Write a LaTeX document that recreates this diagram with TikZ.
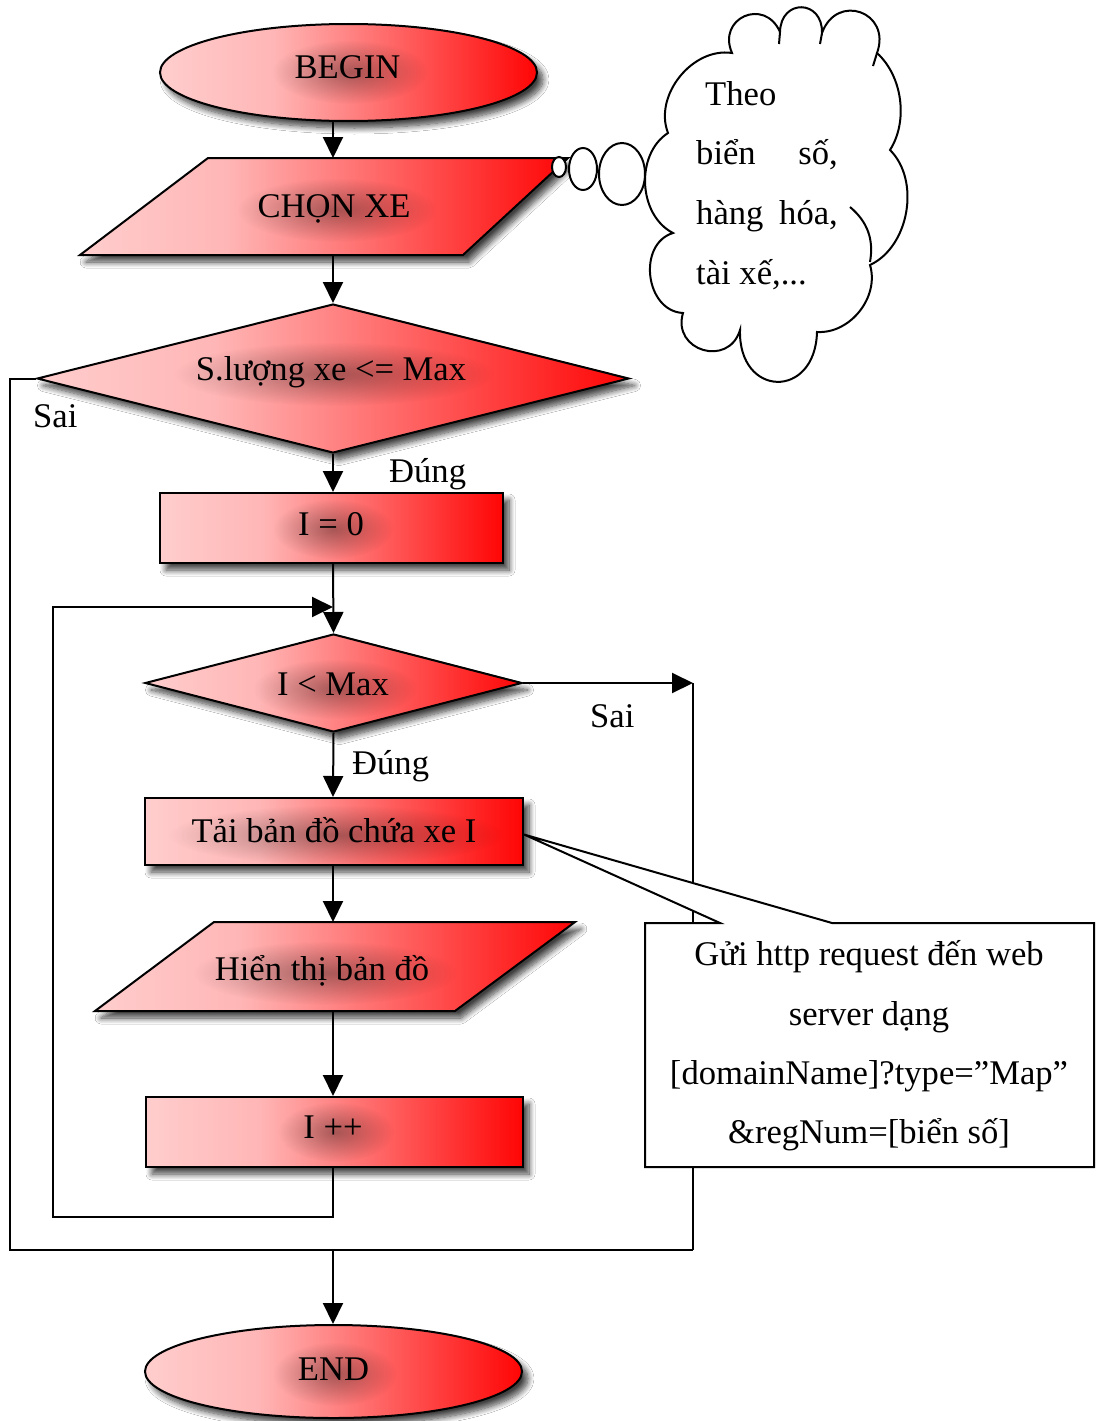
\documentclass[tikz,border=0pt]{standalone}
\usepackage{fontspec}
\setmainfont{Liberation Serif}
\usetikzlibrary{shapes.geometric,arrows.meta,shadows.blur,fadings,calc}

% fill colours: light pink on the left running into strong red on the right
\definecolor{pinkA}{RGB}{255,205,205}
\definecolor{pinkB}{RGB}{255,182,182}
\definecolor{redC}{RGB}{255,5,5}
\pgfdeclarehorizontalshading{pinkred}{100bp}{color(0bp)=(pinkA); color(25bp)=(pinkA); color(40bp)=(pinkB); color(75bp)=(redC); color(100bp)=(redC)}
\tikzfading[name=glowfade, inner color=transparent!0, outer color=transparent!100]

\newcommand\bigtext{\fontsize{34.6pt}{41pt}\selectfont}
% soft dark halo behind a label
\newcommand\textglow[3]{\fill[black, opacity=0.34, path fading=glowfade, fit fading=true] (#1) ellipse [x radius=#2pt, y radius=#3pt];}

\tikzset{
  ln/.style={line width=2pt, draw=black},
  shaded/.style={draw=black, line width=2pt, shade, shading=pinkred,
    blur shadow={shadow xshift=6pt, shadow yshift=-7pt, shadow blur radius=6pt, shadow blur steps=10, shadow opacity=75}},
  terminal/.style={shaded, ellipse, inner sep=0pt, minimum width=377pt, minimum height=97pt},
  process/.style={shaded, rectangle, inner sep=0pt},
  decision/.style={shaded, diamond, inner sep=0pt},
  frame/.style={rectangle, inner sep=0pt, outer sep=0pt},
  txt/.style={anchor=base, inner sep=0pt, font=\bigtext},
  arr/.style={ln, -{Triangle[length=21pt, width=20pt, color=black, fill=black]}},
  bubble/.style={ellipse, draw=black, line width=2pt, fill=white, inner sep=0pt},
}

\begin{document}
\begin{tikzpicture}[x=1pt, y=-1pt]
\fill[white] (0,0) rectangle (1095,1421);
\useasboundingbox (0,0) rectangle (1095,1421);

% guide lines of the flow
\coordinate (ax) at (333,0);
\coordinate (lx) at (10,0);
\coordinate (rx) at (693,0);
\coordinate (jn) at (333,1250);

% ---- BEGIN
\node[terminal] (begin) at (348.5,72.5) {};
\textglow{350,72}{78}{32}
\node[txt] (t-begin) at (347.5,78) {BEGIN};

% ---- CHỌN XE (input)
\node[frame, minimum width=488pt, minimum height=97pt] (chon) at (324,206.5) {};
\path[shaded] (chon.south west) -- ([xshift=-105pt]chon.south east) -- (chon.north east) -- ([xshift=128pt]chon.north west) -- cycle;
\textglow{337,210}{100}{32}
\node[txt] (t-chon) at (334,217) {CHỌN XE};

% ---- thought bubble
\node[bubble, minimum width=14pt, minimum height=20pt] (b1) at (559,167) {};
\node[bubble, minimum width=28pt, minimum height=42pt] (b2) at (583,169) {};
\node[bubble, minimum width=46pt, minimum height=62pt] (b3) at (622,174) {};
\filldraw[ln, fill=white]
  (668,133) to[bend left=60] (732,53)
  to[bend left=90, looseness=1.87] (780,32)
  to[bend left=90, looseness=2.05] (822,33)
  to[bend left=90, looseness=1.9] (877,53)
  to[bend left=40, looseness=0.9] (890,150)
  to[bend left=55, looseness=0.95] (870,265)
  to[bend left=55] (817,332)
  to[bend left=90, looseness=2.25] (740,330)
  to[bend left=90, looseness=1.7] (683,313)
  to[bend left=80, looseness=1.2] (673,233)
  to[bend left=60] (668,133) -- cycle;
\draw[ln] (780,32) -- (779,44);
\draw[ln] (822,33) -- (820,44);
\draw[ln] (877,53) -- (873,66);
\draw[ln] (850,207) to[bend left=30] (870,262);
\node[txt, anchor=base west] (c1) at (705,105) {Theo};
\node[txt, anchor=base west] (c2a) at (696,164) {biển};
\node[txt, anchor=base east] (c2b) at (838,164) {số,};
\node[txt, anchor=base west] (c3a) at (696,224) {hàng};
\node[txt, anchor=base east] (c3b) at (838,224) {hóa,};
\node[txt, anchor=base west] (c4) at (696,284) {tài xế,...};

% ---- S.lượng xe <= Max
\node[decision, minimum width=592pt, minimum height=149pt] (d1) at (333,378.5) {};
\textglow{334,374}{160}{32}
\node[txt] (t-d1) at (331,380) {S.lượng xe <= Max};

% ---- I = 0
\node[process, minimum width=343pt, minimum height=70pt] (i0) at (331.5,528) {};
\textglow{333,529}{60}{30}
\node[txt] (t-i0) at (331,535) {I = 0};

% ---- I < Max
\node[decision, minimum width=377pt, minimum height=98pt] (d2) at (333.5,683) {};
\textglow{335,689}{82}{30}
\node[txt] (t-d2) at (333,695) {I < Max};

% ---- Tải bản đồ chứa xe I
\node[process, minimum width=378pt, minimum height=67pt] (load) at (334,831.5) {};
\textglow{336,835}{168}{30}
\node[txt] (t-load) at (334,842) {Tải bản đồ chứa xe I};

% ---- Hiển thị bản đồ (output)
\node[frame, minimum width=480pt, minimum height=89pt] (hien) at (335,966.5) {};
\path[shaded] (hien.south west) -- ([xshift=-120pt]hien.south east) -- (hien.north east) -- ([xshift=119pt]hien.north west) -- cycle;
\textglow{325,973}{132}{32}
\node[txt] (t-hien) at (322,980) {Hiển thị bản đồ};

% ---- I ++
\node[process, minimum width=377pt, minimum height=70pt] (ipp) at (334.5,1132) {};
\textglow{336,1132}{58}{30}
\node[txt] (t-ipp) at (333,1138) {I ++};

% ---- END
\node[terminal, minimum height=93pt] (end) at (333.5,1371.5) {};
\textglow{335,1374}{62}{32}
\node[txt] (t-end) at (333.5,1380) {END};

% ---- branch labels
\node[txt, anchor=base west] (l-sai1) at (33,427) {Sai};
\node[txt, anchor=base west] (l-dung1) at (389,482) {Đúng};
\node[txt, anchor=base west] (l-sai2) at (590,727) {Sai};
\node[txt, anchor=base west] (l-dung2) at (352,774) {Đúng};

% ---- main flow
\draw[arr] (begin.south -| ax) -- (chon.north -| ax);
\draw[arr] (chon.south -| ax) -- (d1.north);
\draw[arr] (d1.south) -- (i0.north -| ax);
\draw[arr] (i0.south -| ax) -- (d2.north);
\draw[arr] (d2.south) -- (load.north -| ax);
\draw[arr] (load.south -| ax) -- (hien.north -| ax);
\draw[arr] (hien.south -| ax) -- (ipp.north -| ax);

% ---- loop back to the test
\coordinate (loopBR) at (333,1217);
\coordinate (loopBL) at (53,1217);
\coordinate (loopTL) at (53,607);
\coordinate (loopIn) at (333,607);
\draw[arr] (ipp.south -| ax) -- (loopBR) -- (loopBL) -- (loopTL) -- (loopIn);

% ---- exits to END
\draw[ln] (d1.west) -- (d1.west -| lx) -- (lx |- jn) -- (rx |- jn);
\draw[arr] (d2.east) -- (d2.east -| rx);
\draw[ln] (d2.east -| rx) -- (rx |- jn);
\draw[arr] (jn) -- (end.north -| jn);

% ---- note on the request
\node[frame, minimum width=449pt, minimum height=244pt] (note) at (869.5,1045) {};
\filldraw[ln, fill=white] (note.north west) -- ([xshift=75pt]note.north west) -- ([yshift=-3pt]load.east)
  -- ([xshift=187pt]note.north west) -- (note.north east) -- (note.south east) -- (note.south west) -- cycle;
\node[txt] (n1) at (869,965) {Gửi http request đến web};
\node[txt] (n2) at (869,1025) {server dạng};
\node[txt] (n3) at (869,1084) {[domainName]?type=”Map”};
\node[txt] (n4) at (869,1143) {\&regNum=[biển số]};
\end{tikzpicture}
\end{document}
